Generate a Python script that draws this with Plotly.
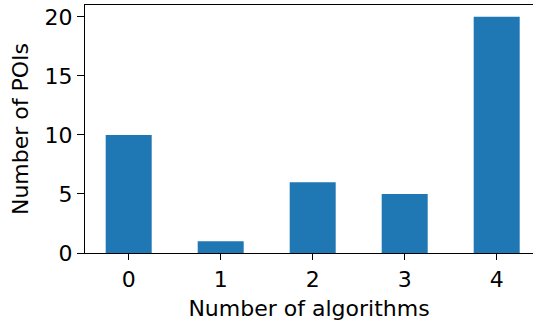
import plotly.graph_objects as go

categories = [0, 1, 2, 3, 4]
counts = [10, 1, 6, 5, 20]
y_ticks = [0, 5, 10, 15, 20]
x_label = "Number of algorithms"
y_label = "Number of POIs"

fig = go.Figure(go.Bar(
    x=categories, y=counts, width=0.5,
    marker=dict(color="#1f77b4", line=dict(width=0)),
))

axis_font = dict(family="DejaVu Sans", size=22, color="black")
fig.update_layout(
    width=533, height=324,
    margin=dict(l=85, r=0, t=5, b=71, autoexpand=False),
    paper_bgcolor="white", plot_bgcolor="white",
    showlegend=False,
    font=axis_font,
    xaxis=dict(
        range=[-0.475, -0.475 + 448 / 92],
        tickmode="array", tickvals=categories, ticktext=[str(c) for c in categories],
        ticks="outside", ticklen=6, tickwidth=1.3, tickcolor="black",
        showline=True, linecolor="black", linewidth=1.3, mirror=True,
        showgrid=False, zeroline=False, automargin=False,
        title=dict(text=x_label, font=axis_font, standoff=10),
        tickfont=axis_font,
    ),
    yaxis=dict(
        range=[0, 21],
        tickmode="array", tickvals=y_ticks, ticktext=[str(t) for t in y_ticks],
        ticks="outside", ticklen=7, tickwidth=1.3, tickcolor="black",
        showline=True, linecolor="black", linewidth=1.3, mirror=False,
        showgrid=False, zeroline=False, automargin=False,
        title=dict(text=y_label, font=axis_font, standoff=9),
        tickfont=axis_font,
    ),
)

fig.write_html(
    "out.html",
    config={"displayModeBar": False},
    post_script="document.body.style.margin='0';document.body.style.overflow='hidden';",
)
